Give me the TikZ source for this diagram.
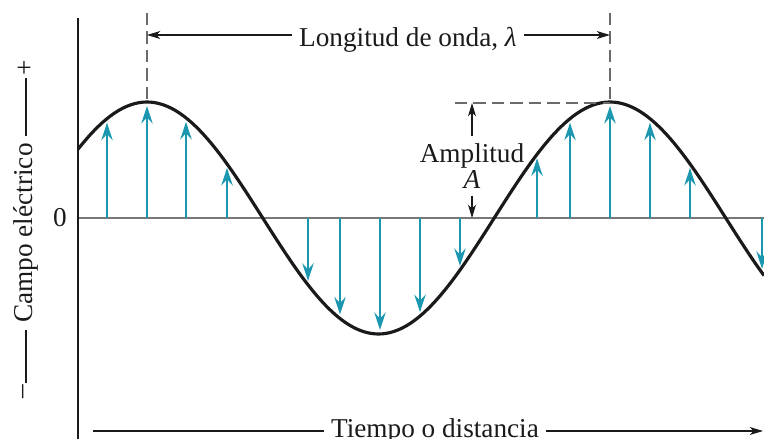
\documentclass[tikz,border=0pt]{standalone}
\usepackage{fontspec}
\setmainfont{Liberation Serif}
\usetikzlibrary{arrows.meta,positioning,calc}
\definecolor{ink}{HTML}{1A1A1A}
\definecolor{axisgray}{HTML}{787878}
\definecolor{dashgray}{HTML}{6A6A6A}
\definecolor{fieldteal}{HTML}{1B98AF}
\tikzset{
  wavecurve/.style={draw=ink, line width=1.8pt},
  fieldarrow/.style={draw=fieldteal, line width=1.1pt,
    -{Stealth[length=10pt,width=6.5pt,inset=3.5pt]}},
  dimarrow/.style={draw=ink, line width=0.6pt,
    -{Stealth[length=7.5pt,width=4.5pt,inset=2pt]}},
  dimline/.style={draw=ink, line width=0.6pt},
  guideline/.style={draw=dashgray, line width=0.7pt, dash pattern=on 7pt off 3.5pt},
  bigtext/.style={font=\fontsize{15.5}{14.5}\selectfont, inner sep=4pt, text=ink}
}

\begin{document}
\begin{tikzpicture}[x=0.02cm,y=0.02cm]
  \useasboundingbox (-78,-221) rectangle (686,218);

  % axes
  \draw[axisgray, line width=0.8pt] (0,0) -- (686,0);
  \draw[ink, line width=1.1pt] (0,-221) -- (0,200);
  \node[bigtext, anchor=east] (zero) at (-4,0) {0};

  % field vectors
  \foreach \p in {29,69,108,149,230,262,302,342,382,459,492,532,572,612,684} {
    \pgfmathsetmacro{\h}{116*cos(0.77754*(\p-69))}
    \pgfmathsetmacro{\tip}{\h>0 ? \h-4 : \h+4}
    \draw[fieldarrow] (\p,0) -- (\p,\tip);
  }

  % wave
  \draw[wavecurve] plot[domain=0:686, samples=170, smooth] (\x,{116*cos(0.77754*(\x-69))});

  % wavelength
  \coordinate (pk1) at (69,114);
  \coordinate (pk2) at (532,114);
  \coordinate (top1) at (69,205);
  \coordinate (top2) at (532,205);
  \coordinate (lamy) at (0,183);
  \draw[guideline] (top1) -- (pk1);
  \draw[guideline] (top2) -- (pk2);
  \node[bigtext] (lam) at (330,178) {Longitud de onda, \textit{λ}};
  \draw[dimarrow] (lam.west |- lamy) -- (top1 |- lamy);
  \draw[dimarrow] (lam.east |- lamy) -- (top2 |- lamy);

  % amplitude
  \coordinate (ampref) at (377,115);
  \draw[guideline] (ampref) -- (pk2 |- ampref);
  \node[bigtext, align=center] (amp) at (394,52) {Amplitud\\\textit{A}};
  \draw[dimarrow] (amp.north) -- (amp.north |- ampref);
  \draw[dimarrow] (amp.south) -- (amp.south |- zero.east);

  % axis labels
  \node[bigtext, rotate=90] (ylab) at (-52,-15) {Campo eléctrico};
  \node[bigtext, rotate=90, inner sep=1pt] (yplus) at (-52,150) {+};
  \node[bigtext, rotate=90, inner sep=1pt] (yminus) at (-52,-174) {--};
  \draw[dimline] (ylab.east) -- (yplus.west);
  \draw[dimline] (ylab.west) -- (yminus.east);

  \coordinate (xstart) at (15,-213);
  \coordinate (xend) at (685,-213);
  \node[bigtext] (xlab) at (357,-213) {Tiempo o distancia};
  \draw[dimline] (xstart) -- (xlab.west);
  \draw[dimarrow] (xlab.east) -- (xend);
\end{tikzpicture}
\end{document}
